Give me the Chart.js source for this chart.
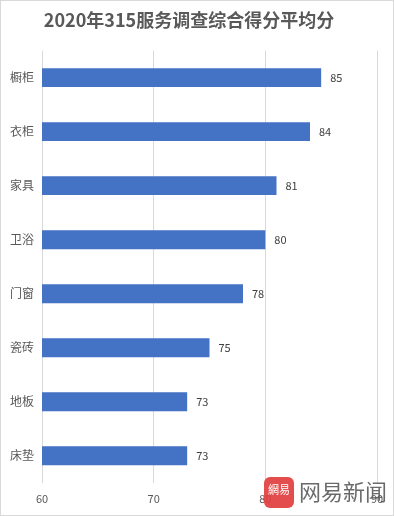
<!DOCTYPE html>
<html>
<head>
<meta charset="utf-8">
<script src="https://cdn.jsdelivr.net/npm/chart.js@4/dist/chart.umd.min.js"></script>
<style>
  body { margin: 0; background: #fff; }
  .wrap { width: 394px; height: 516px; box-sizing: border-box; border: 1px solid #d9d9d9; }
  canvas { display: block; }
</style>
</head>
<body>
<div class="wrap"><canvas id="chart" width="392" height="514"></canvas></div>
<script>
const chartTitle = "2020年315服务调查综合得分平均分";
const categories = ["橱柜", "衣柜", "家具", "卫浴", "门窗", "瓷砖", "地板", "床垫"];
const scores = [85, 84, 81, 80, 78, 75, 73, 73];
const xTicks = [60, 70, 80, 90];

const fontFamily = '"Noto Sans CJK SC", "Noto Sans", sans-serif';

// value labels at the end of each bar
const valueLabels = {
    id: 'valueLabels',
    afterDatasetsDraw(chart) {
        const ctx = chart.ctx;
        const meta = chart.getDatasetMeta(0);
        ctx.save();
        ctx.font = '11px ' + fontFamily;
        ctx.fillStyle = '#404040';
        ctx.textAlign = 'left';
        ctx.textBaseline = 'middle';
        meta.data.forEach((bar, i) => {
            ctx.fillText(scores[i], bar.x + 9, bar.y);
        });
        ctx.restore();
    }
};

// the news site watermark in the lower right corner
const watermark = {
    id: 'watermark',
    afterDraw(chart) {
        const ctx = chart.ctx;
        ctx.save();
        ctx.fillStyle = 'rgba(226, 62, 62, 0.92)';
        ctx.beginPath();
        ctx.roundRect(263, 476, 30, 31, 6);
        ctx.fill();
        ctx.fillStyle = '#fff';
        ctx.font = '11px ' + fontFamily;
        ctx.textAlign = 'center';
        ctx.textBaseline = 'middle';
        ctx.fillText('網易', 278, 489);
        ctx.fillStyle = 'rgba(90, 90, 90, 0.9)';
        ctx.font = '22px ' + fontFamily;
        ctx.textAlign = 'left';
        ctx.fillText('网易新闻', 298, 491);
        ctx.restore();
    }
};

new Chart(document.getElementById('chart'), {
    type: 'bar',
    data: {
        labels: categories,
        datasets: [{
            data: scores,
            backgroundColor: '#4472c4',
            barPercentage: 0.35,
            categoryPercentage: 1
        }]
    },
    options: {
        indexAxis: 'y',
        responsive: false,
        animation: false,
        layout: { padding: { left: 0, right: 16, top: 0, bottom: 1 } },
        plugins: {
            legend: { display: false },
            tooltip: { enabled: false },
            title: {
                display: true,
                text: chartTitle,
                color: '#595959',
                font: { family: fontFamily, size: 18, weight: 'bold' },
                padding: { top: 8, bottom: 20 }
            }
        },
        scales: {
            x: {
                min: 60,
                max: 90,
                afterBuildTicks(scale) {
                    scale.ticks = xTicks.map(v => ({ value: v }));
                },
                grid: { color: '#d9d9d9', drawTicks: false },
                border: { display: false },
                ticks: {
                    color: '#595959',
                    padding: 9,
                    font: { family: fontFamily, size: 11 }
                }
            },
            y: {
                grid: { display: false, drawTicks: false },
                border: { display: false },
                afterFit(scale) { scale.width = 41; },
                ticks: {
                    color: '#595959',
                    padding: 8,
                    font: { family: fontFamily, size: 12 }
                }
            }
        }
    },
    plugins: [valueLabels, watermark]
});
</script>
</body>
</html>
